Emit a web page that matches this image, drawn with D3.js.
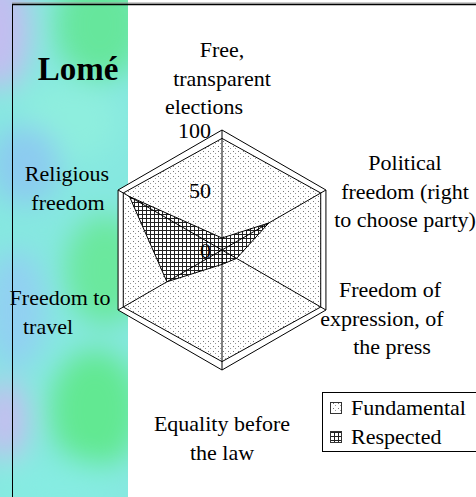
<!DOCTYPE html>
<html>
<head>
<meta charset="utf-8">
<script src="https://cdn.jsdelivr.net/npm/d3@7"></script>
<style>
  body { margin: 0; background: #fff; }
  svg text { font-family: "Liberation Serif", "Times New Roman", serif; fill: #000; }
</style>
</head>
<body>
<div id="chart"></div>
<script>
// chart data
var title = "Lomé";
var axisLabels = [
    ["Free,", "transparent", "elections"],
    ["Political", "freedom (right", "to choose party)"],
    ["Freedom of", "expression, of", "the press"],
    ["Equality before", "the law"],
    ["Freedom to", "travel"],
    ["Religious", "freedom"]
];
var seriesNames = ["Fundamental", "Respected"];
var fundamental = [93, 95, 95, 93, 95, 95];
var respected = [10, 45, 14, 12, 53, 89];
var tickValues = [0, 50, 100];

var svgWidth = 476;
var svgHeight = 497;
var serif = "'Liberation Serif', 'Times New Roman', serif";

// centre and radius of the radar
var cx = 222, cy = 250, radius = 120;

var svg = d3.select("#chart")
    .append("svg")
    .attr("width", svgWidth)
    .attr("height", svgHeight)
    .attr("font-family", serif);

var defs = svg.append("defs");

// blur for the textured strip on the left
defs.append("filter")
    .attr("id", "soft")
    .attr("x", "-50%").attr("y", "-50%").attr("width", "200%").attr("height", "200%")
    .append("feGaussianBlur")
    .attr("stdDeviation", 14);

defs.append("clipPath")
    .attr("id", "stripClip")
    .append("rect")
    .attr("width", 128)
    .attr("height", svgHeight);

// dotted fill
var dots = defs.append("pattern")
    .attr("id", "dots")
    .attr("patternUnits", "userSpaceOnUse")
    .attr("width", 5)
    .attr("height", 5);
dots.append("rect").attr("width", 5).attr("height", 5).attr("fill", "#fff");
dots.append("rect").attr("x", 1).attr("y", 1).attr("width", 1).attr("height", 1).attr("fill", "#777");
dots.append("rect").attr("x", 3).attr("y", 3).attr("width", 1).attr("height", 1).attr("fill", "#999");

// grid fill
var grid = defs.append("pattern")
    .attr("id", "grid")
    .attr("patternUnits", "userSpaceOnUse")
    .attr("width", 4)
    .attr("height", 4);
grid.append("rect").attr("width", 4).attr("height", 4).attr("fill", "#fff");
grid.append("rect").attr("x", 0).attr("y", 0).attr("width", 1).attr("height", 4).attr("fill", "#222");
grid.append("rect").attr("x", 0).attr("y", 0).attr("width", 4).attr("height", 1).attr("fill", "#222");

// left coloured strip
var strip = svg.append("g").attr("clip-path", "url(#stripClip)");
strip.append("rect")
    .attr("width", 128)
    .attr("height", svgHeight)
    .attr("fill", "#86e8e0");

var blobs = [
    [0, 30, 30, 60, "#c3bdf0"],
    [100, 25, 45, 55, "#66e69c"],
    [70, 120, 50, 40, "#8eeede"],
    [25, 165, 35, 40, "#8ccbf0"],
    [105, 270, 40, 55, "#6ae89e"],
    [15, 310, 30, 60, "#92d0f2"],
    [95, 410, 45, 60, "#62e892"],
    [5, 420, 22, 40, "#c6bdf0"],
    [60, 485, 60, 25, "#86ece2"]
];
strip.append("g")
    .attr("filter", "url(#soft)")
    .selectAll("ellipse")
    .data(blobs)
    .enter()
    .append("ellipse")
    .attr("cx", d => d[0])
    .attr("cy", d => d[1])
    .attr("rx", d => d[2])
    .attr("ry", d => d[3])
    .attr("fill", d => d[4]);

// frame lines
svg.append("line")
    .attr("x1", 12).attr("x2", svgWidth)
    .attr("y1", 3).attr("y2", 3)
    .attr("stroke", "#999").attr("stroke-width", 1);
svg.append("line")
    .attr("x1", 12).attr("x2", svgWidth)
    .attr("y1", 4.5).attr("y2", 4.5)
    .attr("stroke", "#000").attr("stroke-width", 1.5);
svg.append("line")
    .attr("x1", 12.5).attr("x2", 12.5)
    .attr("y1", 4).attr("y2", svgHeight)
    .attr("stroke", "#000").attr("stroke-width", 1);

// title
svg.append("text")
    .attr("x", 78)
    .attr("y", 80)
    .attr("text-anchor", "middle")
    .attr("font-family", serif)
    .attr("font-size", 33)
    .attr("font-weight", "bold")
    .text(title);

// radial scale
var rScale = d3.scaleLinear()
    .domain([0, 100])
    .range([0, radius]);

var angleStep = 2 * Math.PI / axisLabels.length;

var radarLine = d3.lineRadial()
    .angle((d, i) => i * angleStep)
    .radius(d => rScale(d))
    .curve(d3.curveLinearClosed);

var chartGroup = svg.append("g")
    .attr("transform", `translate(${cx}, ${cy})`);

function point(value, i) {
    var a = i * angleStep - Math.PI / 2;
    return [rScale(value) * Math.cos(a), rScale(value) * Math.sin(a)];
}

// outer grid hexagon
var maxTick = d3.max(tickValues);
chartGroup.append("path")
    .attr("d", radarLine(axisLabels.map(() => maxTick)))
    .attr("fill", "#fff")
    .attr("stroke", "#000")
    .attr("stroke-width", 1);

// series areas
chartGroup.append("path")
    .attr("d", radarLine(fundamental))
    .attr("fill", "url(#dots)")
    .attr("stroke", "#000")
    .attr("stroke-width", 1);

chartGroup.append("path")
    .attr("d", radarLine(respected))
    .attr("fill", "url(#grid)")
    .attr("stroke", "#000")
    .attr("stroke-width", 1);

// spokes
chartGroup.selectAll(".spoke")
    .data(axisLabels)
    .enter()
    .append("line")
    .attr("class", "spoke")
    .attr("x1", 0).attr("y1", 0)
    .attr("x2", (d, i) => point(maxTick, i)[0])
    .attr("y2", (d, i) => point(maxTick, i)[1])
    .attr("stroke", "#000")
    .attr("stroke-width", 1);

// tick labels on the vertical axis
chartGroup.selectAll(".tick")
    .data(tickValues)
    .enter()
    .append("text")
    .attr("class", "tick")
    .attr("x", -11)
    .attr("y", d => -rScale(d) + 8)
    .attr("text-anchor", "end")
    .attr("font-family", serif)
    .attr("font-size", 22)
    .text(d => d);

// axis category labels
var labelPos = [
    { x: 222, y: 57, dx: [0, 0, -18] },
    { x: 405, y: 170, dx: [0, 0, 0] },
    { x: 388, y: 297, dx: [2, -6, 4] },
    { x: 222, y: 431, dx: [0, 0] },
    { x: 60, y: 305, dx: [0, -12] },
    { x: 67, y: 181, dx: [0, 1] }
];
var lineGap = 28.5;

axisLabels.forEach(function (lines, i) {
    var t = svg.append("text")
        .attr("text-anchor", "middle")
        .attr("font-family", serif)
        .attr("font-size", 22);
    lines.forEach(function (line, j) {
        t.append("tspan")
            .attr("x", labelPos[i].x + labelPos[i].dx[j])
            .attr("y", labelPos[i].y + j * lineGap)
            .text(line);
    });
});

// legend
var legend = svg.append("g")
    .attr("transform", "translate(322, 392)");

legend.append("rect")
    .attr("x", 0.5).attr("y", 0.5)
    .attr("width", 160).attr("height", 59)
    .attr("fill", "#fff")
    .attr("stroke", "#000")
    .attr("stroke-width", 1);

var legendFills = ["url(#dots)", "url(#grid)"];
seriesNames.forEach(function (name, i) {
    legend.append("rect")
        .attr("x", 8.5)
        .attr("y", 10.5 + i * 29)
        .attr("width", 11)
        .attr("height", 11)
        .attr("fill", legendFills[i])
        .attr("stroke", "#333")
        .attr("stroke-width", 1);
    legend.append("text")
        .attr("x", 29)
        .attr("y", 23 + i * 29)
        .attr("font-family", serif)
        .attr("font-size", 22)
        .text(name);
});
</script>
</body>
</html>
